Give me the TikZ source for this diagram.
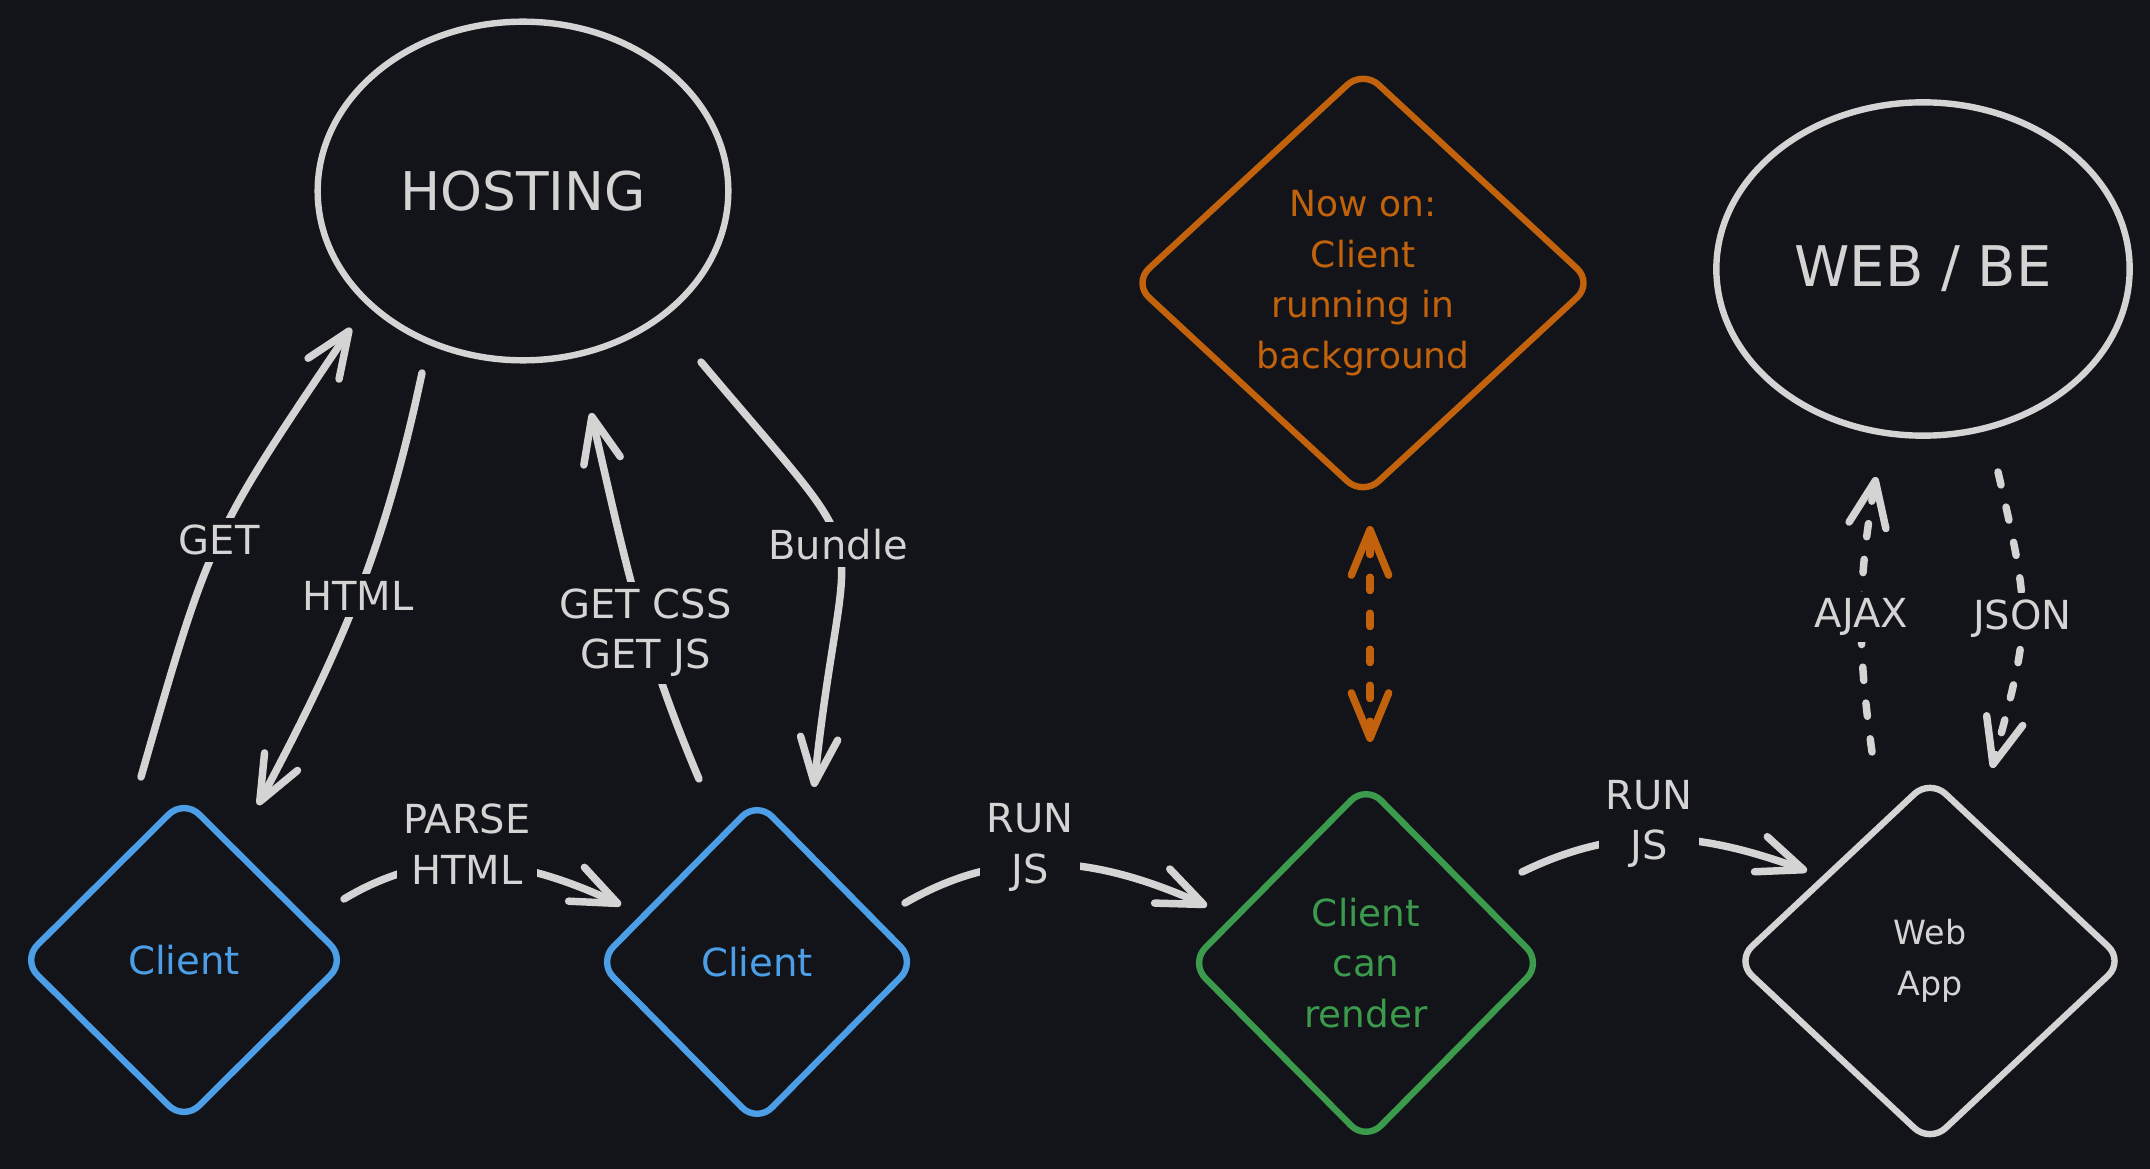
\documentclass[tikz,border=0pt]{standalone}
\usepackage{fontspec}
\setmainfont{DejaVu Sans}
\usetikzlibrary{shapes.geometric,arrows.meta,calc}

\definecolor{bgdark}{HTML}{121419}
\definecolor{chalk}{HTML}{D4D4D4}
\definecolor{clientblue}{HTML}{4C9EE6}
\definecolor{bgorange}{HTML}{C2620C}
\definecolor{rendergreen}{HTML}{3B9A4B}

\tikzset{every picture/.style={line width=0.75pt}}
\tikzset{
  blob/.style={ellipse, draw=chalk, line width=4.8pt, inner sep=0pt, text=chalk},
  rhomb/.style={diamond, line width=4.8pt, rounded corners=16pt, inner sep=0pt, align=center},
  flow/.style={draw=chalk, line width=5.6pt, line cap=round, -{Straight Barb[length=34pt,width=28pt,round]}},
  lbl/.style={fill=bgdark, text=chalk, font=\fontsize{30}{38}\selectfont, align=center, inner sep=5pt},
  dashy/.style={dash pattern=on 10pt off 17pt},
}

\begin{document}
\begin{tikzpicture}[x=0.75pt,y=0.75pt,yscale=-1,xscale=1]
\useasboundingbox (0,0) rectangle (2150,1169);
\fill[bgdark] (0,0) rectangle (2150,1169);

% Ellipses
\node[blob, minimum width=308pt, minimum height=254pt, font=\fontsize{40}{48}\selectfont] (hosting) at (523,191) {HOSTING};
\node[blob, minimum width=310pt, minimum height=250pt, font=\fontsize{42}{50}\selectfont] (webbe) at (1923,269) {WEB / BE};

% Diamonds
\node[rhomb, draw=clientblue, text=clientblue, minimum width=244.5pt, minimum height=243pt, font=\fontsize{29}{38}\selectfont] (client1) at (184,960) {Client};
\node[rhomb, draw=clientblue, text=clientblue, minimum width=240pt, minimum height=243pt, font=\fontsize{29}{38}\selectfont] (client2) at (757,962) {Client};
\node[rhomb, draw=rendergreen, text=rendergreen, minimum width=265.5pt, minimum height=268.5pt, font=\fontsize{28}{38}\selectfont] (render) at (1366,963) {Client\\can\\render};
\node[rhomb, draw=chalk, text=chalk, minimum width=292.5pt, minimum height=274.5pt, font=\fontsize{25}{38}\selectfont] (webapp) at (1930,961) {Web\\App};
\node[rhomb, draw=bgorange, text=bgorange, minimum width=346.5pt, minimum height=321pt, font=\fontsize{27}{38}\selectfont] (bgjob) at (1363,283) {Now on:\\Client\\running in\\background};

% Client <-> hosting
\draw[flow] ($(client1)+(-43,-183)$) to[out=-74,in=124,looseness=1.3] node[lbl,pos=0.5]{GET} ($(hosting)+(-172,137)$);
\draw[flow] ($(hosting)+(-101,182)$) to[out=102,in=-62] node[lbl,pos=0.5]{HTML} ($(client1)+(74,-155)$);
\draw[flow] ($(client2)+(-58,-183)$) to[out=-113,in=77] node[lbl,pos=0.4]{GET CSS\\GET JS} ($(hosting)+(68,222)$);
\draw[flow] ($(hosting)+(178,171)$) to[out=50,in=-84,looseness=1.7] node[lbl,pos=0.48]{Bundle} ($(client2)+(57,-175)$);

% Along the bottom
\draw[flow] ($(client1)+(160,-61)$) to[out=-31,in=-155] node[lbl,pos=0.45,shift={(0,19)}]{PARSE\\HTML} ($(client2)+(-136,-57)$);
\draw[flow] ($(client2)+(148,-59)$) to[out=-30,in=-156] node[lbl,pos=0.42,shift={(0,17)}]{RUN\\JS} ($(render)+(-159,-57)$);
\draw[flow] ($(render)+(156,-91)$) to[out=-26,in=-160] node[lbl,pos=0.45,shift={(0,15)}]{RUN\\JS} ($(webapp)+(-123,-90)$);

% Dashed
\draw[flow, draw=bgorange, dashy, {Straight Barb[length=34pt,width=28pt,round]}-{Straight Barb[length=34pt,width=28pt,round]}] ($(render)+(4,-221)$) -- ($(bgjob)+(7,243)$);
\draw[flow, dashy] ($(webapp)+(-58,-209)$) to[out=-98,in=100] node[lbl,pos=0.49]{AJAX} ($(webbe)+(-47,208)$);
\draw[flow, dashy] ($(webbe)+(75,203)$) to[out=77,in=-75,looseness=1.3] node[lbl,pos=0.49]{JSON} ($(webapp)+(62,-193)$);

\end{tikzpicture}
\end{document}
